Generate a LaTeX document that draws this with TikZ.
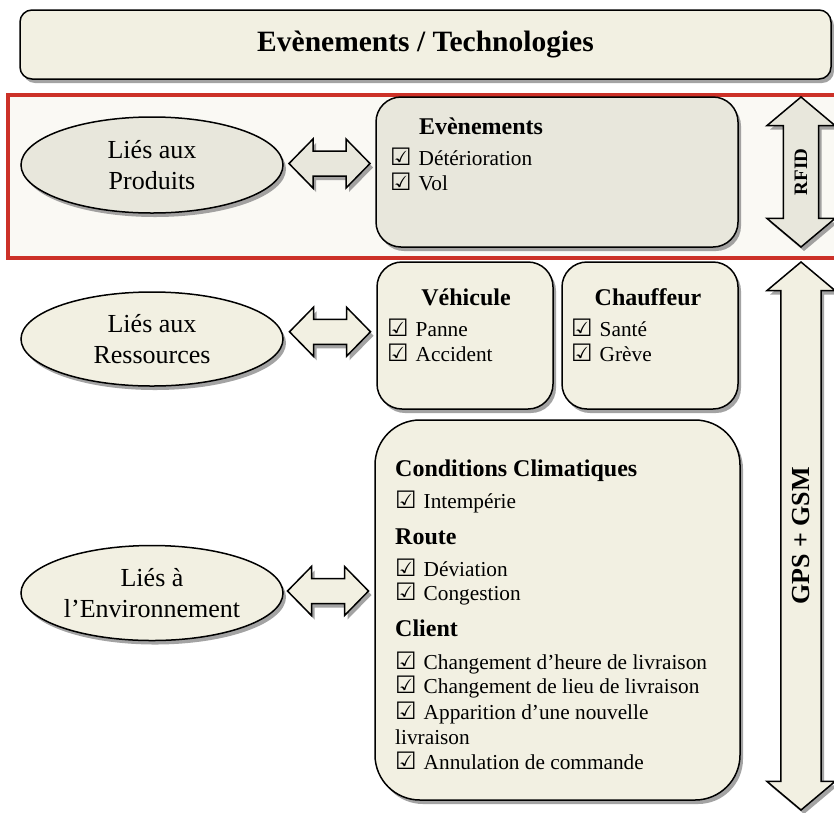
\documentclass[tikz,border=0pt]{standalone}
\usepackage{fontspec}
\setmainfont{Liberation Serif}
\newfontfamily\symb{DejaVu Sans}
\usetikzlibrary{shapes.geometric, shapes.arrows, shadows, calc}

\definecolor{creme}{HTML}{F2F0E2}
\definecolor{grisclair}{HTML}{E8E7DC}
\definecolor{rouge}{HTML}{CC3128}
\definecolor{fondrouge}{HTML}{FAF9F4}

\newcommand{\coche}{{\symb\fontsize{24}{24}\selectfont\char"2611}\hspace{7pt}}
% flèche double horizontale : #1 = centre, #2 = remplissage
\newcommand{\blocfleche}[2]{%
  \draw[fleche, fill=#2] ($#1+(-40.5,0)$) -- ++(24,-24.5) -- ++(0,12) -- ++(33,0) -- ++(0,-12)
    -- ++(24,24.5) -- ++(-24,24.5) -- ++(0,-12) -- ++(-33,0) -- ++(0,12) -- cycle;}

\tikzset{
  ombre/.style={drop shadow={shadow xshift=3pt, shadow yshift=-4pt, fill=black!45, opacity=0.8}},
  cadre/.style={draw, line width=1.5pt, rounded corners=25pt, fill=creme, ombre, inner sep=0pt},
  lien/.style={ellipse, draw, line width=1.5pt, fill=creme, ombre, minimum width=262pt, inner sep=0pt, align=center, font=\fontsize{26}{31}\selectfont},
  fleche/.style={line width=1.5pt, line join=miter, ombre},
  techno/.style={double arrow, draw, line width=1.5pt, fill=creme, ombre, rotate=90, inner sep=0pt, double arrow head extend=6.5pt, double arrow tip angle=100, minimum width=68pt, font=\bfseries\fontsize{26}{26}\selectfont},
  entete/.style={anchor=base, inner sep=0pt, font=\bfseries\fontsize{24}{28}\selectfont},
  item/.style={anchor=base west, inner sep=0pt, font=\fontsize{21.3}{25}\selectfont},
}

\begin{document}
\begin{tikzpicture}[x=1pt, y=-1pt]
  \useasboundingbox (0,0) rectangle (834,812);

  % titre
  \node[cadre, rounded corners=12pt, minimum width=811pt, minimum height=69pt, font=\bfseries\fontsize{29.5}{34}\selectfont] (titre) at (425.5,44.5) {Evènements / Technologies};

  % produits (zone rouge)
  \draw[rouge, line width=3.5pt, fill=fondrouge] (8,95) rectangle (845,258);
  \node[lien, minimum height=96pt, fill=grisclair] (prod) at (152,165) {Liés aux\\Produits};
  \node[cadre, fill=grisclair, minimum width=362pt, minimum height=150pt] (evt) at (557,172) {};
  \blocfleche{($(prod.east)!0.5!(evt.west)+(0,-5)$)}{grisclair}
  \node[techno, fill=grisclair, minimum height=150pt, font=\bfseries\fontsize{19}{19}\selectfont] (rfid) at (801,172) {RFID};
  \node[entete] (hevt) at (481,134) {Evènements};
  \node[item] (evt1) at (390,165) {\coche Détérioration};
  \node[item] (evt2) at (390,190) {\coche Vol};

  % ressources
  \node[lien, minimum height=94pt] (ress) at (152,339) {Liés aux\\Ressources};
  \node[cadre, minimum width=176pt, minimum height=147pt] (veh) at (465,335.5) {};
  \node[cadre, minimum width=176pt, minimum height=147pt] (chauf) at (650,335.5) {};
  \blocfleche{($(ress.east)!0.5!(veh.west)+(0,-5.5)$)}{creme}
  \node[entete] (hveh) at (466,305) {Véhicule};
  \node[item] (veh1) at (387,336) {\coche Panne};
  \node[item] (veh2) at (387,361) {\coche Accident};
  \node[entete] (hchauf) at (648,305) {Chauffeur};
  \node[item] (chauf1) at (571,336) {\coche Santé};
  \node[item] (chauf2) at (571,361) {\coche Grève};

  % environnement
  \node[lien, minimum height=95pt] (envi) at (152,593) {Liés à\\l’Environnement};
  \node[cadre, rounded corners=45pt, minimum width=365pt, minimum height=380pt] (envbox) at (557.5,610) {};
  \blocfleche{($(envi.east)!0.5!(envbox.west)+(-1,-10.5)$)}{creme}
  \node[entete, anchor=base west] (hclim) at (395,476) {Conditions Climatiques};
  \node[item] (clim1) at (395,508) {\coche Intempérie};
  \node[entete, anchor=base west] (hroute) at (395,544) {Route};
  \node[item] (route1) at (395,576) {\coche Déviation};
  \node[item] (route2) at (395,600) {\coche Congestion};
  \node[entete, anchor=base west] (hclient) at (395,636) {Client};
  \node[item] (client1) at (395,669) {\coche Changement d’heure de livraison};
  \node[item] (client2) at (395,693) {\coche Changement de lieu de livraison};
  \node[item] (client3) at (395,719) {\coche Apparition d’une nouvelle};
  \node[item] (client3b) at (395,744) {livraison};
  \node[item] (client4) at (395,769) {\coche Annulation de commande};

  % GPS + GSM
  \node[techno, minimum height=548pt] (gps) at (801,536) {GPS + GSM};
\end{tikzpicture}
\end{document}
